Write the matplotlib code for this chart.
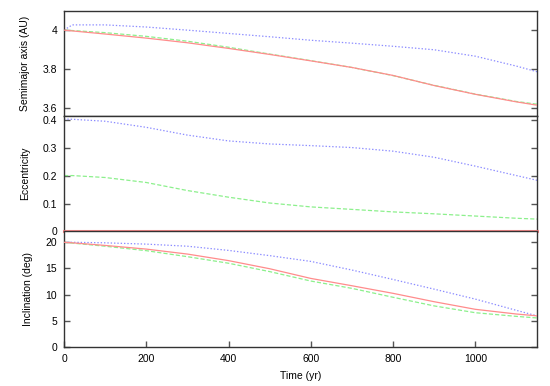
"""
Orbital evolution of the three planets: semimajor axis, eccentricity and
inclination against time, stacked gnuplot-style panels.
"""
import numpy as np
import matplotlib
matplotlib.use("Agg")
import matplotlib.pyplot as plt
from matplotlib.ticker import FormatStrFormatter, MultipleLocator

################################################################################
# Data

time = [0, 20, 100, 200, 300, 400, 500, 600, 700, 800, 900, 1000, 1100, 1150]

# Semimajor axis (AU)
a_red = [4.000, 3.996, 3.980, 3.959, 3.935, 3.906, 3.875, 3.842, 3.808, 3.767,
         3.715, 3.670, 3.631, 3.614]
a_green = [4.000, 3.998, 3.987, 3.968, 3.943, 3.912, 3.877, 3.843, 3.808, 3.766,
           3.716, 3.671, 3.633, 3.619]
a_blue = [4.000, 4.027, 4.027, 4.016, 4.000, 3.983, 3.966, 3.948, 3.933, 3.917,
          3.899, 3.866, 3.815, 3.786]

# Eccentricity
e_red = [0.0] * 14
e_green = [0.201, 0.201, 0.194, 0.176, 0.147, 0.123, 0.102, 0.088, 0.079, 0.070,
           0.063, 0.055, 0.047, 0.044]
e_blue = [0.405, 0.404, 0.397, 0.375, 0.347, 0.326, 0.315, 0.309, 0.302, 0.289,
          0.267, 0.235, 0.201, 0.184]

# Inclination (deg)
i_red = [20.0, 19.9, 19.4, 18.7, 17.75, 16.5, 14.95, 13.1, 11.7, 10.25, 8.65,
         7.2, 6.3, 5.95]
i_green = [20.0, 19.85, 19.25, 18.4, 17.25, 16.0, 14.4, 12.6, 11.2, 9.5, 7.85,
           6.55, 5.85, 5.55]
i_blue = [20.0, 20.0, 19.9, 19.65, 19.25, 18.45, 17.45, 16.35, 14.7, 12.9, 11.05,
          9.15, 7.0, 5.95]

################################################################################
# Plot

plt.rcParams['font.family'] = ['Liberation Sans', 'DejaVu Sans']
plt.rcParams['font.size'] = 7.5
plt.rcParams['lines.scale_dashes'] = False

fig = plt.figure(figsize=(5.5, 3.86), dpi=100)
left, width = 0.1164, 0.86
ax_a = fig.add_axes([left, 0.7003, width, 0.2720])
ax_e = fig.add_axes([left, 0.4008, width, 0.2995])
ax_i = fig.add_axes([left, 0.1010, width, 0.2998])

red, green, blue = '#ff8c8c', '#8cf08c', '#8c8cff'

def draw(ax, r, g, b):
    ax.plot(time, r, color=red, lw=0.9, zorder=3)
    ax.plot(time, g, color=green, lw=0.9, dashes=(3, 1.5), zorder=2)
    ax.plot(time, b, color=blue, lw=0.9, dashes=(1, 1.4), zorder=2)

draw(ax_a, a_red, a_green, a_blue)
draw(ax_e, e_red, e_green, e_blue)
draw(ax_i, i_red, i_green, i_blue)
# the zero-eccentricity line sits on the panel boundary; the lower panel
# (drawn afterwards) hides its lower half and the black border stays on top
ax_e.lines[0].set_clip_on(False)
ax_e.lines[0].set_linewidth(2.2)

ax_a.set_ylim(3.56, 4.1)
ax_a.yaxis.set_major_locator(MultipleLocator(0.2))
ax_a.set_ylabel('Semimajor axis (AU)', labelpad=9)

ax_e.set_ylim(0, 0.417)
ax_e.yaxis.set_major_locator(MultipleLocator(0.1))
ax_e.set_ylabel('Eccentricity', labelpad=9)

ax_i.set_ylim(0, 22.1)
ax_i.yaxis.set_major_locator(MultipleLocator(5))
ax_i.set_ylabel('Inclination (deg)', labelpad=9)
ax_i.set_xlabel('Time (yr)', labelpad=5)
ax_i.xaxis.set_major_locator(MultipleLocator(200))

for ax in (ax_a, ax_e, ax_i):
    ax.set_xlim(0, 1150)
    ax.yaxis.set_major_formatter(FormatStrFormatter('%g'))
    ax.tick_params(axis='y', direction='in', left=True, right=True, length=4,
                   width=1, color='#555555', pad=5)
    ax.tick_params(axis='x', direction='in', top=False, length=4, width=1,
                   color='#555555', pad=5)
    for sp in ax.spines.values():
        sp.set_linewidth(1.0)
        sp.set_color('#333333')

for ax in (ax_a, ax_e):
    ax.tick_params(axis='x', bottom=False, labelbottom=False)

fig.savefig('out.png', dpi=100)
